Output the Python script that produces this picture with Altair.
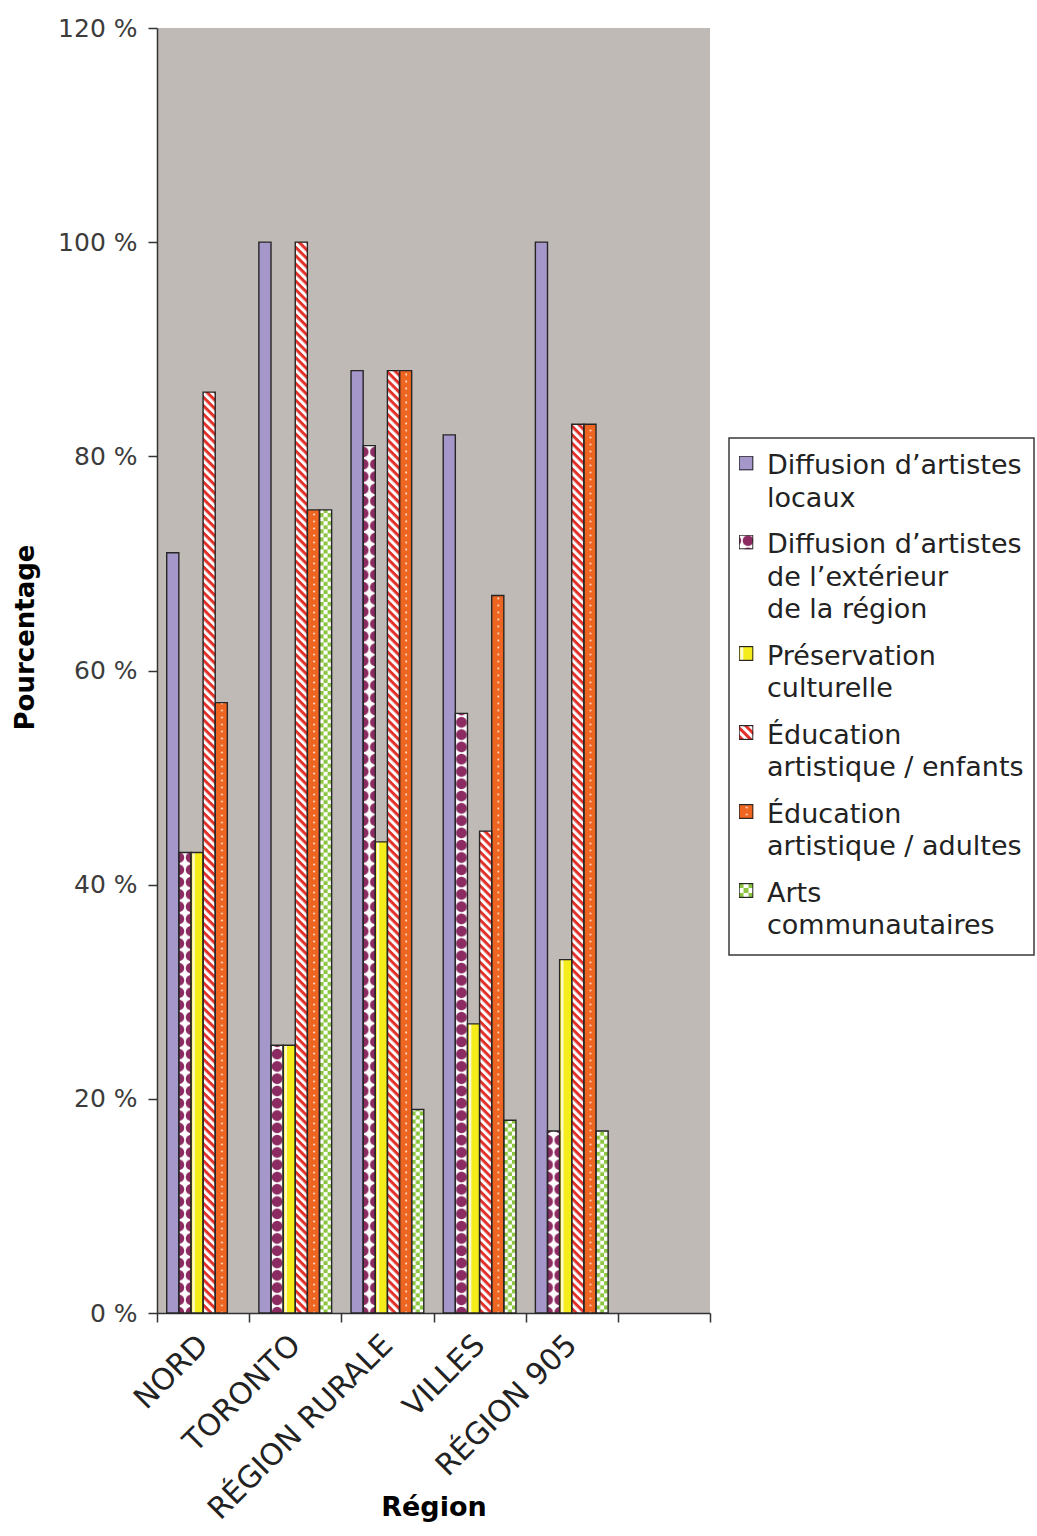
import base64

import altair as alt
import pandas as pd

# ---- data -------------------------------------------------------------
REGIONS = ["NORD", "TORONTO", "RÉGION RURALE", "VILLES", "RÉGION 905"]
SERIES = [
    "Diffusion d’artistes locaux",
    "Diffusion d’artistes de l’extérieur de la région",
    "Préservation culturelle",
    "Éducation artistique / enfants",
    "Éducation artistique / adultes",
    "Arts communautaires",
]
LEGEND_LINES = [
    ["Diffusion d’artistes", "locaux"],
    ["Diffusion d’artistes", "de l’extérieur", "de la région"],
    ["Préservation", "culturelle"],
    ["Éducation", "artistique / enfants"],
    ["Éducation", "artistique / adultes"],
    ["Arts", "communautaires"],
]
LOCAUX = [71, 100, 88, 82, 100]
EXTERIEUR = [43, 25, 81, 56, 17]
PRESERVATION = [43, 25, 44, 27, 33]
ENFANTS = [86, 100, 88, 45, 83]
ADULTES = [57, 75, 88, 67, 83]
COMMUNAUTAIRES = [None, 75, 19, 18, 17]
Y_TICKS = [0, 20, 40, 60, 80, 100, 120]

VALUES = [LOCAUX, EXTERIEUR, PRESERVATION, ENFANTS, ADULTES, COMMUNAUTAIRES]

# ---- styling ----------------------------------------------------------
PURPLE = "#a597c9"
MAROON = "#8c2b62"
YELLOW = "#f5ec1c"
RED = "#e2302a"
ORANGE = "#ee6521"
GREEN = "#8cc540"
COLORS = [PURPLE, MAROON, YELLOW, RED, ORANGE, GREEN]
PLOT_BG = "#c0bab6"
INK = "#262626"
FONT = "DejaVu Sans"

PLOT_W, PLOT_H = 553, 1285
Y_MAX = 120
X_DOMAIN = REGIONS + [" "]          # one empty slot at the right
STEP = PLOT_W / len(X_DOMAIN)
SUB_PAD = 0.8
SUB = STEP / (len(SERIES) + 2 * SUB_PAD)
DOT_P = STEP / 7.5                   # blob period of the "extérieur" fill
DOT_X0 = SUB_PAD * SUB + SUB         # blobs anchored on that series' first bar edge


def svg_uri(w, h, body):
    svg = (
        f"<svg xmlns='http://www.w3.org/2000/svg' width='{w:.3f}' height='{h:.3f}' "
        f"viewBox='0 0 {w:.3f} {h:.3f}' preserveAspectRatio='none'>{body}</svg>"
    )
    return "data:image/svg+xml;base64," + base64.b64encode(svg.encode("utf-8")).decode()


def fill_body(k, w, h, ox, oy):
    """SVG content filling a w x h box with the fill of series k.
    ox, oy: position of the box in plot coordinates (pattern anchoring)."""
    full = f"<rect x='0' y='0' width='{w:.3f}' height='{h:.3f}'"
    if k == 0:
        return full + f" fill='{PURPLE}'/>"
    if k == 1:
        p = DOT_P
        c = p / 2
        pat = (
            f"<defs><pattern id='p' patternUnits='userSpaceOnUse' x='{DOT_X0 - c - ox:.3f}' "
            f"y='{-oy:.3f}' width='{p:.3f}' height='{p:.3f}'>"
            f"<rect width='{p:.3f}' height='{p:.3f}' fill='white'/>"
            f"<circle cx='{c:.3f}' cy='{c:.3f}' r='{0.44 * p:.3f}' fill='{MAROON}'/>"
            f"</pattern></defs>"
        )
        return pat + full + " fill='url(#p)'/>"
    if k == 2:
        return (
            full + f" fill='{YELLOW}'/>"
            f"<rect x='{0.12 * w:.3f}' y='0' width='{0.2 * w:.3f}' height='{h:.3f}' fill='#fcf9cf'/>"
        )
    if k == 3:
        s = 6.0
        pat = (
            f"<defs><pattern id='p' patternUnits='userSpaceOnUse' x='{-ox:.3f}' y='{-oy:.3f}' "
            f"width='20' height='{s}' patternTransform='rotate(45)'>"
            f"<rect width='20' height='{s}' fill='white'/>"
            f"<rect width='20' height='{s / 2}' fill='{RED}'/>"
            f"</pattern></defs>"
        )
        return pat + full + " fill='url(#p)'/>"
    if k == 4:
        pat = (
            f"<defs><pattern id='p' patternUnits='userSpaceOnUse' x='0' y='{-oy:.3f}' "
            f"width='{w:.3f}' height='7'>"
            f"<circle cx='{0.55 * w:.3f}' cy='3.5' r='1' fill='#fde4cf'/>"
            f"</pattern></defs>"
        )
        return pat + full + f" fill='{ORANGE}'/>" + full + " fill='url(#p)'/>"
    s = w / 3
    pat = (
        f"<defs><pattern id='p' patternUnits='userSpaceOnUse' x='0' y='{-oy:.3f}' "
        f"width='{2 * s:.3f}' height='{2 * s:.3f}'>"
        f"<rect width='{2 * s:.3f}' height='{2 * s:.3f}' fill='white'/>"
        f"<rect width='{s:.3f}' height='{s:.3f}' fill='{GREEN}'/>"
        f"<rect x='{s:.3f}' y='{s:.3f}' width='{s:.3f}' height='{s:.3f}' fill='{GREEN}'/>"
        f"</pattern></defs>"
    )
    return pat + full + " fill='url(#p)'/>"


# ---- bar table --------------------------------------------------------
rows = []
for k, (name, vals) in enumerate(zip(SERIES, VALUES)):
    for i, (region, v) in enumerate(zip(REGIONS, vals)):
        if v is None:
            continue
        h = v * PLOT_H / Y_MAX
        ox = i * STEP + SUB_PAD * SUB + k * SUB
        oy = PLOT_H - h
        rows.append(
            {
                "region": region,
                "series": name,
                "value": v,
                "uri": svg_uri(SUB, h, fill_body(k, SUB, h, ox, oy)),
            }
        )
bars = pd.DataFrame(rows)

x_enc = alt.X(
    "region:N",
    scale=alt.Scale(domain=X_DOMAIN, paddingInner=0, paddingOuter=0),
    axis=alt.Axis(
        title="Région",
        labelAngle=-45,
        labelAlign="right",
        labelBaseline="middle",
        labelFontSize=30,
        labelFont=FONT,
        labelColor="#222222",
        labelPadding=18,
        labelLimit=500,
        labelOverlap=False,
        tickBand="extent",
        tickSize=9,
        tickWidth=1.5,
        tickColor="#333333",
        domainColor="#333333",
        domainWidth=1.5,
        titleFont=FONT,
        titleFontSize=27,
        titleFontWeight="bold",
        titleColor="black",
        titleY=194,
        titleBaseline="middle",
    ),
)
xoff_enc = alt.XOffset(
    "series:N",
    scale=alt.Scale(domain=SERIES, paddingInner=0, paddingOuter=SUB_PAD),
)
y_enc = alt.Y(
    "value:Q",
    scale=alt.Scale(domain=[0, Y_MAX], nice=False),
    axis=alt.Axis(
        values=Y_TICKS,
        labelExpr="datum.value + ' %'",
        grid=False,
        labelFontSize=25,
        labelFont=FONT,
        labelColor="#3c3c3c",
        labelPadding=11,
        tickSize=9,
        tickWidth=1.5,
        tickColor="#333333",
        domainColor="#333333",
        domainWidth=1.5,
        title="Pourcentage",
        titleFont=FONT,
        titleFontSize=26,
        titleFontWeight="bold",
        titleColor="black",
        titleX=-119,
        titleY=609,
    ),
)

base = alt.Chart(bars)
solid = base.mark_bar().encode(
    x=x_enc,
    xOffset=xoff_enc,
    y=y_enc,
    color=alt.Color("series:N", scale=alt.Scale(domain=SERIES, range=COLORS), legend=None),
)
patterned = base.mark_image(aspect=False).encode(
    x=x_enc,
    xOffset=xoff_enc,
    y=y_enc,
    y2=alt.datum(0),
    url="uri:N",
)
outline = base.mark_bar(fillOpacity=0, stroke=INK, strokeWidth=1.4).encode(
    x=x_enc, xOffset=xoff_enc, y=y_enc
)

main = alt.layer(solid, patterned, outline).properties(
    width=PLOT_W,
    height=PLOT_H,
    view=alt.ViewBackground(fill=PLOT_BG, strokeWidth=0),
)

# ---- legend panel -----------------------------------------------------
LEG_W, LEG_H = 305, 517
LINE_H = 32.5
ENTRY_GAP = 14
ICON = 15

leg_rows = []
top = 25
for k, lines in enumerate(LEGEND_LINES):
    body = fill_body(k, ICON, ICON, 0, 0)
    body += (
        f"<rect x='0.6' y='0.6' width='{ICON - 1.2}' height='{ICON - 1.2}' "
        f"fill='none' stroke='{INK}' stroke-width='1.2'/>"
    )
    leg_rows.append(
        {"series": SERIES[k], "label": "\n".join(lines), "ypos": top, "icon": svg_uri(ICON, ICON, body)}
    )
    top += len(lines) * LINE_H + ENTRY_GAP
leg_df = pd.DataFrame(leg_rows)

leg_y = alt.Y("ypos:Q", scale=alt.Scale(domain=[0, LEG_H], range=[0, LEG_H]), axis=None)
leg_base = alt.Chart(leg_df)
icons = leg_base.mark_image(
    width=ICON, height=ICON, align="center", baseline="middle", aspect=False
).encode(x=alt.value(17), y=leg_y, url="icon:N")
labels = leg_base.mark_text(
    align="left",
    baseline="top",
    lineBreak="\n",
    lineHeight=LINE_H,
    fontSize=27,
    font=FONT,
    color="#222222",
    dy=-10,
).encode(x=alt.value(38), y=leg_y, text="label:N")

legend = alt.layer(icons, labels).properties(
    width=LEG_W,
    height=LEG_H,
    view=alt.ViewBackground(fill="white", stroke="#3a3a3a", strokeWidth=1.5),
)

spacer = (
    alt.Chart(pd.DataFrame({"v": [0]}))
    .mark_point(opacity=0)
    .properties(width=LEG_W, height=409, view=alt.ViewBackground(strokeWidth=0))
)

chart = (
    alt.hconcat(main, alt.vconcat(spacer, legend, spacing=0), spacing=17)
    .properties(padding={"left": 12, "top": 16, "right": 0, "bottom": 0})
    .configure(font=FONT)
)

chart.save("out.html", embed_options={"renderer": "svg", "actions": False})
